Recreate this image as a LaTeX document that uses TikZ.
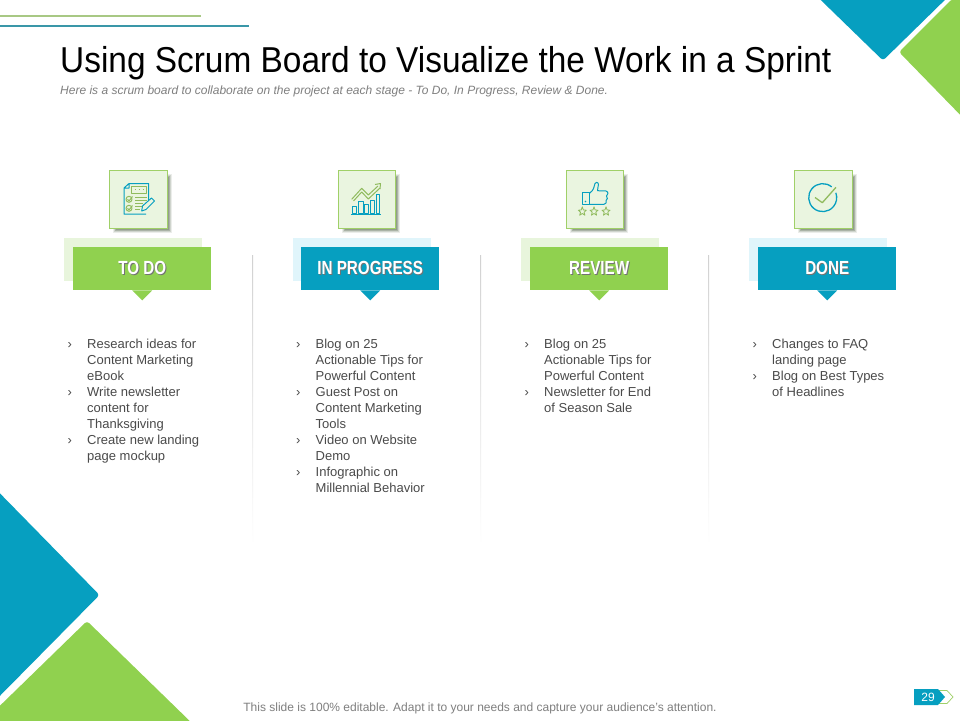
\documentclass[tikz,border=0pt]{standalone}
\usepackage{fontspec}
\setmainfont{Liberation Sans}
\newfontfamily\headfont[FakeStretch=0.8]{Liberation Sans Bold}
\newfontfamily\titlefont[FakeStretch=0.928]{Liberation Sans}
\usetikzlibrary{shapes.geometric,calc}
\definecolor{cgreen}{HTML}{90D14F}
\definecolor{cteal}{HTML}{069FC0}
\definecolor{iconfill}{HTML}{EAF5E0}
\definecolor{iconline}{HTML}{A0D068}
\definecolor{backgreen}{HTML}{E8F5DC}
\definecolor{backteal}{HTML}{E0F5FB}
\definecolor{shadowc}{HTML}{7F8C78}
\definecolor{bodytext}{HTML}{4A4A4A}
\definecolor{subtext}{HTML}{7F7F7F}
\definecolor{topgreen}{HTML}{A8C884}
\definecolor{topteal}{HTML}{3A97A8}
\newcommand{\hd}[1]{\headfont\fontsize{19}{22}\selectfont\rlap{\hspace{1pt}\raisebox{-1pt}{\color{black!55}#1}}\color{white}#1}
\newcommand{\itm}{\llap{\makebox[19.5pt][l]{›}}}
\newcommand{\softshadow}[4]{%
  \fill[shadowc,opacity=0.15] (#1-1.5,#2-1.5) rectangle (#3+1,#4+1);
  \fill[shadowc,opacity=0.25] (#1-0.5,#2-0.5) rectangle (#3,#4);
  \fill[shadowc,opacity=0.45] (#1+0.5,#2+0.5) rectangle (#3-1,#4-1);
  \fill[shadowc,opacity=0.55] (#1+1.5,#2+1.5) rectangle (#3-2,#4-2);
}
\tikzset{
  x=1pt,y=-1pt,
  iconbox/.style={draw=iconline,line width=0.8pt,fill=iconfill},
  lbl/.style={minimum width=138pt,minimum height=43pt,inner sep=0pt,anchor=north west},
  bodycol/.style={anchor=north west,align=left,inner sep=0pt,text=bodytext,font=\fontsize{13}{16}\selectfont},
  tl/.style={draw=cteal,line width=1pt,line join=round},
  gl/.style={draw=iconline!90!black,line width=1pt,line join=round},
  divider/.style={top color=black!18,bottom color=white,draw=none},
}
\begin{document}
\begin{tikzpicture}
\useasboundingbox (0,0) rectangle (960,720);
\fill[white] (0,0) rectangle (960,720);
% top lines
\fill[topgreen] (0,14.5) rectangle (201,16.8);
\fill[topteal] (0,24.5) rectangle (249,26.8);
% corners
\fill[cteal,rounded corners=3pt] (812.5,-8) -- (883,60.5) -- (953,-8) -- cycle;
\fill[cgreen,rounded corners=3pt] (952,-1) -- (899,52) -- (972,127) -- (972,-1) -- cycle;
\fill[cteal,rounded corners=3pt] (-20,473) -- (99.5,595) -- (-20,716) -- cycle;
\fill[cgreen,rounded corners=3pt] (87,621) -- (-25,730) -- (199,730) -- cycle;
% title
\node[anchor=west,inner sep=0pt] (title) at (60,63) {\titlefont\fontsize{36}{40}\selectfont Using Scrum Board to Visualize the Work in a Sprint};
\node[anchor=west,inner sep=0pt,text=subtext] (subtitle) at (60,91) {\fontsize{12}{14}\selectfont\itshape Here is a scrum board to collaborate on the project at each stage - To Do, In Progress, Review \& Done.};
% dividers
\shade[divider] (252,255) rectangle (253,545);
\shade[divider] (480,255) rectangle (481,545);
\shade[divider] (708,255) rectangle (709,545);
% icon boxes
\softshadow{114}{175}{170.5}{232}
\softshadow{343}{175}{398.5}{232}
\softshadow{571}{175}{626.5}{232}
\softshadow{799}{175}{855.5}{232}
\node[iconbox,minimum width=57.5pt,minimum height=57.5pt,inner sep=0pt,anchor=north west] (box1) at (109.3,170) {};
\node[iconbox,minimum width=56.5pt,minimum height=57.5pt,inner sep=0pt,anchor=north west] (box2) at (338.2,170) {};
\node[iconbox,minimum width=56.5pt,minimum height=57.5pt,inner sep=0pt,anchor=north west] (box3) at (566.2,170) {};
\node[iconbox,minimum width=57.5pt,minimum height=57.5pt,inner sep=0pt,anchor=north west] (box4) at (794.3,170) {};
% icon 1: checklist
\draw[tl] (124,188) -- (129,183.5) -- (148.7,183.5) -- (148.7,204) (146,214) -- (124,214) -- (124,188) -- (129,188) -- (129,183.5);
\draw[gl] (131.7,186) rectangle (146.7,193.3);
\draw[gl] (134.5,189.7) -- (135.5,189.7) (138.7,189.7) -- (139.7,189.7) (142.7,189.7) -- (143.7,189.7);
\draw[gl] (129,199.3) circle[radius=3pt] (129,208.3) circle[radius=3pt];
\draw[gl] (127.5,199.3) -- (129,201) -- (132.5,196.5) (127.5,208.3) -- (129,210) -- (132.5,205.5);
\draw[gl] (135,197.5) -- (147,197.5) (135,200.5) -- (147,200.5) (135,203.5) -- (143,203.5);
\draw[gl] (135,206.5) -- (142,206.5) (135,209.5) -- (140,209.5);
\draw[tl,fill=iconfill] (141.7,211) -- (142.5,206) -- (151.5,198) -- (154.5,201) -- (146,209.5) -- cycle;
% icon 2: chart
\draw[gl] (351.7,199.3) -- (361.7,188.3) -- (368.3,195) -- (378,186);
\draw[gl] (353.5,201) -- (361.7,192) -- (368.3,199) -- (380,188);
\draw[gl] (375,184.5) -- (380.5,183.5) -- (380,189);
\draw[tl] (352,213.3) rectangle (356.5,206.7) (358.7,213.3) rectangle (363,201.7) (364.7,213.3) rectangle (368.5,204.3) (370,213.3) rectangle (374,200.7) (376,213.3) rectangle (379.5,194.3);
\draw[tl] (351,214) -- (381,214);
% icon 3: thumbs up
\draw[tl] (582.3,192.3) rectangle (589.3,204.3);
\draw[tl] (589.3,193.5) .. controls (594,190) and (594,187) .. (595,183.5) .. controls (597,181) and (599.5,183) .. (598,187) -- (597.5,190.7) -- (606,191) .. controls (609,192) and (608,195) .. (606.5,196) .. controls (608,197.5) and (607.5,200) .. (606,200.5) .. controls (607,202) and (606,204.3) .. (604,204.3) -- (589.3,204.3);
\fill[cteal] (585.5,201.5) circle[radius=0.9pt];
\foreach \sx in {582.3,594,606}{
  \draw[gl,line width=0.8pt] (\sx,206.8) -- (\sx+1.1,210) -- (\sx+4,210.2) -- (\sx+1.8,212.2) -- (\sx+2.6,215.2) -- (\sx,213.5) -- (\sx-2.6,215.2) -- (\sx-1.8,212.2) -- (\sx-4,210.2) -- (\sx-1.1,210) -- cycle;
}
% icon 4: check
\draw[cteal,line width=1.3pt] (831.7,186.9) arc[start angle=50,end angle=380,radius=14pt];
\draw[iconline!90!black,line width=1.3pt,line join=round] (815,197.5) -- (822.3,202.7) -- (836,187.3);
% labels
\fill[backgreen] (64,238) rectangle (202,281);
\fill[backteal] (292.5,238) rectangle (430.5,281);
\fill[backgreen] (521,238) rectangle (659,281);
\fill[backteal] (749,238) rectangle (887,281);
\node[lbl,fill=cgreen] (l1) at (73,247) {\hd{TO DO}};
\node[lbl,fill=cteal] (l2) at (301,247) {\hd{IN PROGRESS}};
\node[lbl,fill=cgreen] (l3) at (530,247) {\hd{REVIEW}};
\node[lbl,fill=cteal] (l4) at (758,247) {\hd{DONE}};
\fill[cgreen] ($(l1.south)+(-10,0)$) -- ($(l1.south)+(0,10)$) -- ($(l1.south)+(10,0)$) -- cycle;
\fill[cteal] ($(l2.south)+(-10,0)$) -- ($(l2.south)+(0,10)$) -- ($(l2.south)+(10,0)$) -- cycle;
\fill[cgreen] ($(l3.south)+(-10,0)$) -- ($(l3.south)+(0,10)$) -- ($(l3.south)+(10,0)$) -- cycle;
\fill[cteal] ($(l4.south)+(-10,0)$) -- ($(l4.south)+(0,10)$) -- ($(l4.south)+(10,0)$) -- cycle;
% body
\node[bodycol] (t1) at (87,339) {\itm Research ideas for\\Content Marketing\\eBook\\\itm Write newsletter\\content for\\Thanksgiving\\\itm Create new landing\\page mockup};
\node[bodycol] (t2) at (315.5,339) {\itm Blog on 25\\Actionable Tips for\\Powerful Content\\\itm Guest Post on\\Content Marketing\\Tools\\\itm Video on Website\\Demo\\\itm Infographic  on\\Millennial Behavior};
\node[bodycol] (t3) at (544,339) {\itm Blog on 25\\Actionable Tips for\\Powerful Content\\\itm Newsletter for End\\of Season Sale};
\node[bodycol] (t4) at (772,339) {\itm Changes to FAQ\\landing page\\\itm Blog on Best Types\\of Headlines};
% footer
\node[inner sep=0pt,text=subtext] (footer) at (480,708.5) {\fontsize{12}{14}\selectfont This slide is 100\% editable. Adapt it to your needs and capture your audience's attention.};
% page number
\draw[iconline,fill=white,line width=0.7pt] (938,690.5) -- (947,690.5) -- (953,697) -- (947,703.5) -- (938,703.5) -- cycle;
\fill[cteal] (914,689) -- (938,689) -- (945,697) -- (938,705) -- (914,705) -- cycle;
\node[text=white,inner sep=0pt] (pg) at (928,697) {\fontsize{12}{14}\selectfont 29};
\end{tikzpicture}
\end{document}
